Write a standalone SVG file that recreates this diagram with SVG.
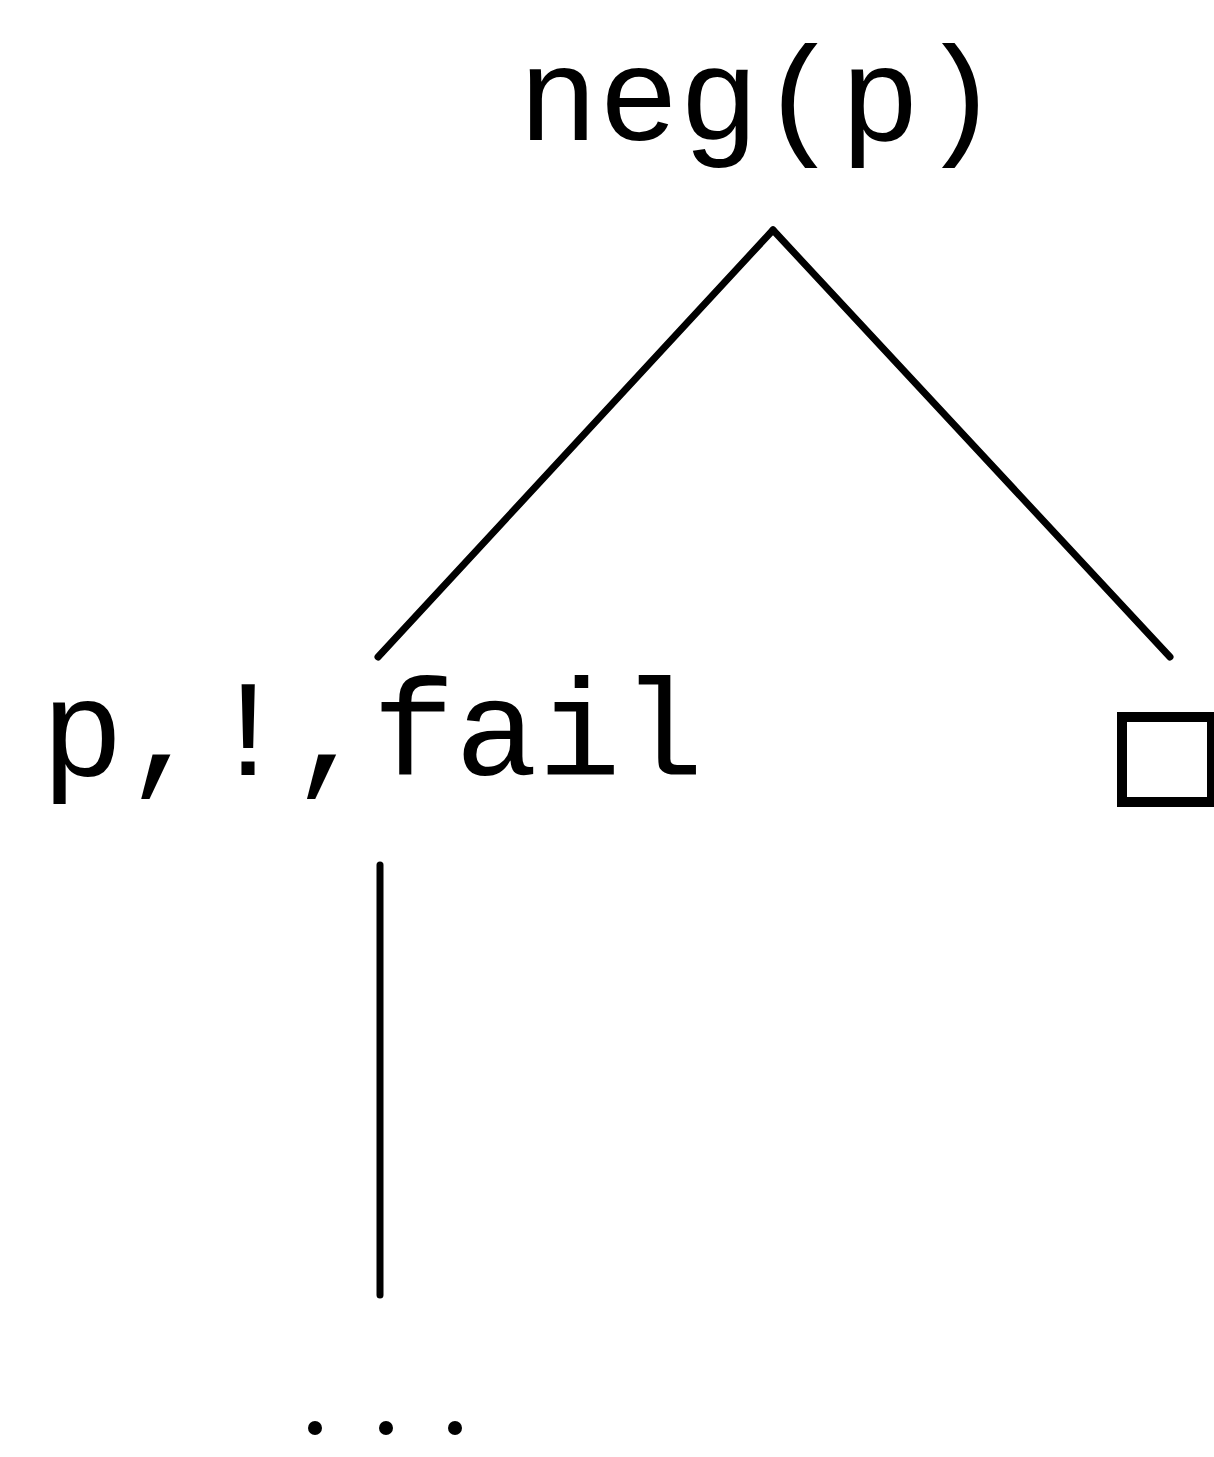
<svg xmlns="http://www.w3.org/2000/svg" width="1214" height="1457" viewBox="0 0 1214 1457">
<style>
.lbl{font-family:"Liberation Mono","DejaVu Sans Mono",monospace;font-size:134px;fill:#000}
.edge{stroke:#000;stroke-width:7;fill:none;stroke-linecap:round}
</style>
<rect x="0" y="0" width="1214" height="1457" fill="#fff"/>
<g id="connectors">
<line class="edge" x1="773" y1="230" x2="378" y2="657"/>
<line class="edge" x1="773" y1="230" x2="1170" y2="657"/>
<line class="edge" x1="380" y1="865" x2="380" y2="1295"/>
</g>
<g id="node-root"><text class="lbl" x="518" y="140">neg(p)</text></g>
<g id="node-left"><text class="lbl" x="41" y="775" style="font-size:138px">p,!,fail</text></g>
<g id="node-right"><rect x="1122" y="717" width="90" height="85" fill="none" stroke="#000" stroke-width="10"/></g>
<g id="node-dots">
<circle cx="315" cy="1428" r="7" fill="#000"/>
<circle cx="386" cy="1428" r="7" fill="#000"/>
<circle cx="455" cy="1428" r="7" fill="#000"/>
</g>
</svg>
